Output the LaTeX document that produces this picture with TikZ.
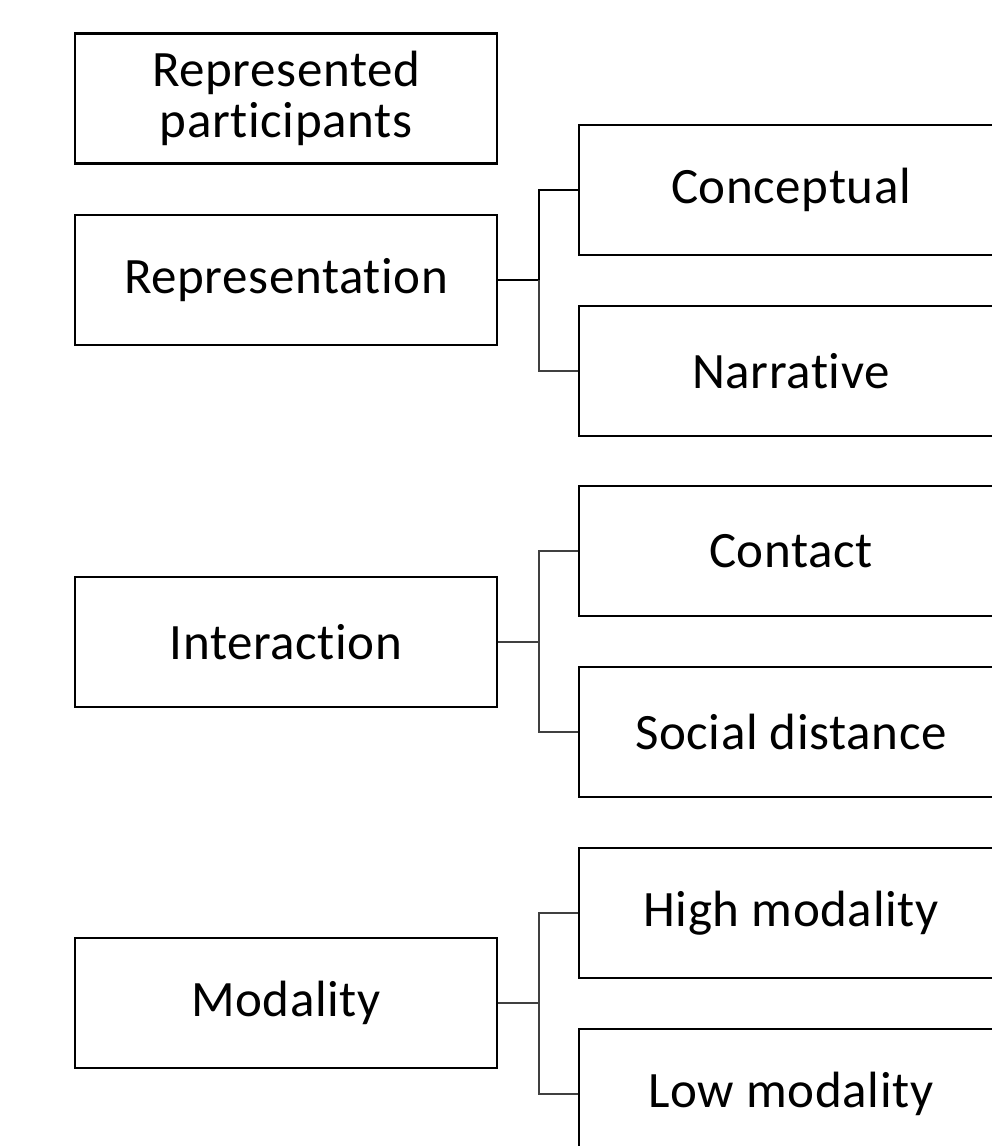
\documentclass[tikz,border=0pt]{standalone}
\usepackage{fontspec}
\setmainfont{Carlito}[Ligatures={NoCommon},LetterSpace=1.2]
\begin{document}
\begin{tikzpicture}[x=1pt,y=-1pt,
  box/.style={draw=black, line width=2.4pt, minimum height=130pt, inner sep=0pt,
    font=\fontsize{51}{51}\selectfont, align=center},
  lbox/.style={box, minimum width=422pt},
  rbox/.style={box, minimum width=424pt},
  thick conn/.style={draw=black, line width=2.2pt},
  thin conn/.style={draw=black!75, line width=1.4pt}]
\useasboundingbox (0,0) rectangle (992,1146);
\clip (0,0) rectangle (992,1146);
% left boxes
\node[lbox] (rp)    at (286,98.5)  {Represented\\participants};
\node[lbox] (rep)   at (286,280)   {Representation};
\node[lbox] (inter) at (286,642)   {Interaction};
\node[lbox] (mod)   at (286,1003)  {Modality};
% right boxes
\node[rbox] (con)  at (791,190)  {Conceptual};
\node[rbox] (nar)  at (791,371)  {Narrative};
\node[rbox] (cont) at (791,551)  {Contact};
\node[rbox] (soc)  at (791,732)  {Social distance};
\node[rbox] (high) at (791,913)  {High modality};
\node[rbox] (low)  at (791,1094) {Low modality};
% junctions
\coordinate (j1) at (539,280);
\coordinate (j2) at (539,642);
\coordinate (j3) at (539,1003);
% connectors
\draw[thick conn] (rep.east) -- (j1) |- (con.west);
\draw[thin conn] (j1) |- (nar.west);
\draw[thin conn] (inter.east) -- (j2) |- (cont.west);
\draw[thin conn] (j2) |- (soc.west);
\draw[thin conn] (mod.east) -- (j3) |- (high.west);
\draw[thin conn] (j3) |- (low.west);
\end{tikzpicture}
\end{document}
